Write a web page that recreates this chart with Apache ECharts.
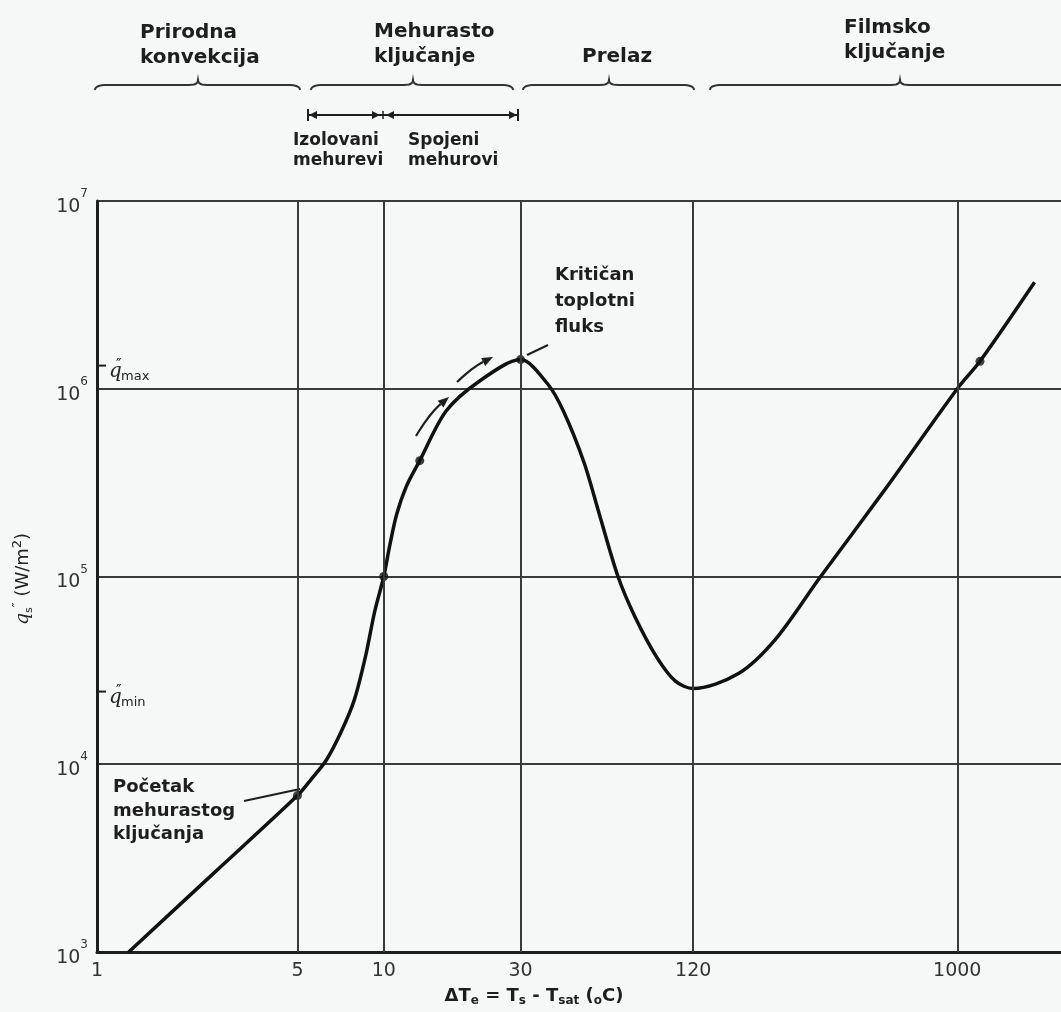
<!DOCTYPE html>
<html>
<head>
<meta charset="utf-8">
<script src="https://cdn.jsdelivr.net/npm/echarts@6/dist/echarts.min.js"></script>
<style>
html,body{margin:0;padding:0;background:#f6f7f7;}
#c{width:1061px;height:1012px;}
</style>
</head>
<body>
<div id="c"></div>
<script>
// ---------- data ----------
const xTicks = [1, 5, 10, 30, 120, 1000];
const xGridLines = [5, 10, 30, 120, 1000];
const yExponents = [3, 4, 5, 6, 7];

const deltaT = [1.29, 2.56, 5.0, 5.6, 6.3, 7.09, 7.9, 8.65, 9.3, 10.0, 10.49, 11.1, 12.0, 13.35, 16.5, 21.6, 30,
                37.3, 42.3, 49.9, 56.4, 65.6, 75.0, 89.5, 104, 120,
                172, 231, 330, 560, 1000, 1200, 1860];
const heatFlux = [1000, 2640, 6810, 8360, 10500, 14800, 22100, 37900, 65200, 100000, 146000, 215000, 303000, 414000, 761000, 1100000, 1430000,
                  1060000, 761000, 406000, 216000, 100000, 61500, 37200, 27700, 25300,
                  30300, 45800, 97500, 291000, 1000000, 1400000, 3690000];

const markedT = [5, 10, 13.35, 30, 1200];
const markedQ = [6810, 100000, 414000, 1430000, 1400000];

const qMax = 1430000;
const qMin = 25300;

const regionLabels = ['Prirodna\nkonvekcija', 'Mehurasto\nključanje', 'Prelaz', 'Filmsko\nključanje'];
const subRegionLabels = ['Izolovani\nmehurevi', 'Spojeni\nmehurovi'];
const chfLabel = 'Kritičan\ntoplotni\nfluks';
const onsetLabel = 'Početak\nmehurastog\nključanja';

// ---------- chart ----------
const ink = '#1e1e1e';
const gridInk = '#3a3a3a';
const BOLD = '"DejaVu Sans", sans-serif';

const chart = echarts.init(document.getElementById('c'));

const option = {
  backgroundColor: '#f6f7f7',
  animation: false,
  grid: { left: 97, right: 0, top: 201, bottom: 60 },
  xAxis: {
    type: 'log', logBase: 10, min: 1, max: 2300,
    axisLine: { show: true, lineStyle: { color: ink, width: 3 } },
    axisTick: { show: false },
    splitLine: { show: false },
    minorTick: { show: false },
    axisLabel: {
      customValues: xTicks,
      formatter: v => String(Math.round(v)),
      margin: 10,
      fontSize: 19,
      fontFamily: '"DejaVu Sans", sans-serif',
      color: '#333'
    }
  },
  yAxis: {
    type: 'log', logBase: 10, min: 1000, max: 1e7,
    axisLine: { show: true, lineStyle: { color: ink, width: 3 } },
    axisTick: { show: false },
    splitLine: { show: true, lineStyle: { color: gridInk, width: 2 } },
    axisLabel: {
      margin: 9,
      formatter: v => {
        const e = yExponents.find(k => Math.abs(Math.pow(10, k) - v) < 1e-6 * v);
        return '{b|10}{s|' + e + '}';
      },
      rich: {
        b: { fontSize: 19, fontFamily: '"DejaVu Sans", sans-serif', color: '#333', lineHeight: 26, padding: [12, 0, 0, 0] },
        s: { fontSize: 12, fontFamily: '"DejaVu Sans", sans-serif', color: '#333', verticalAlign: 'top', lineHeight: 12 }
      }
    }
  },
  series: [
    {
      type: 'line', data: [], z: 1, silent: true,
      markLine: {
        silent: true, symbol: ['none', 'none'], label: { show: false },
        lineStyle: { color: gridInk, width: 2, type: 'solid' },
        emphasis: { disabled: true },
        data: xGridLines.map(v => ({ xAxis: v }))
      }
    },
    {
      type: 'line', z: 3,
      data: deltaT.map((t, i) => [t, heatFlux[i]]),
      smooth: 0.3, showSymbol: false,
      lineStyle: { color: '#111', width: 3.5 }
    },
    {
      type: 'scatter', z: 4,
      data: markedT.map((t, i) => [t, markedQ[i]]),
      symbolSize: 9, itemStyle: { color: '#111' }
    }
  ]
};
chart.setOption(option);

// ---------- annotations ----------
function quadPts(p0, c, p1, n) {
  const out = [];
  for (let i = 1; i <= n; i++) {
    const t = i / n, u = 1 - t;
    out.push([u * u * p0[0] + 2 * u * t * c[0] + t * t * p1[0], u * u * p0[1] + 2 * u * t * c[1] + t * t * p1[1]]);
  }
  return out;
}
function brace(x1, x2, cx, y) {
  let pts = [[x1, y + 5]];
  pts = pts.concat(quadPts([x1, y + 5], [x1, y], [x1 + 12, y], 8));
  pts.push([cx - 9, y]);
  pts = pts.concat(quadPts([cx - 9, y], [cx, y], [cx, y - 5], 6));
  pts = pts.concat(quadPts([cx, y - 5], [cx, y], [cx + 9, y], 6));
  pts.push([x2 - 12, y]);
  pts = pts.concat(quadPts([x2 - 12, y], [x2, y], [x2, y + 5], 8));
  return { type: 'polyline', shape: { points: pts }, style: { stroke: '#333', lineWidth: 2, fill: null } };
}
function tri(x, y, dir) {
  return { type: 'polygon', shape: { points: [[x, y], [x - dir * 8, y - 4], [x - dir * 8, y + 4]] }, style: { fill: ink } };
}
function arrowAlong(x1, y1, cx, cy, x2, y2) {
  const ang = Math.atan2(y2 - cy, x2 - cx);
  const L = 11, W = 4.5;
  const bx = x2 - L * Math.cos(ang), by = y2 - L * Math.sin(ang);
  const px = -Math.sin(ang) * W, py = Math.cos(ang) * W;
  return [
    { type: 'polyline', shape: { points: [[x1, y1]].concat(quadPts([x1, y1], [cx, cy], [bx, by], 10)) }, style: { stroke: ink, lineWidth: 2.2, fill: null } },
    { type: 'polygon', shape: { points: [[x2, y2], [bx + px, by + py], [bx - px, by - py]] }, style: { fill: ink } }
  ];
}
const txt = (x, y, text, size, lh) => ({
  type: 'text', x, y, z: 10,
  style: { text, font: `bold ${size}px ${BOLD}`, fill: ink, lineHeight: lh, verticalAlign: 'top', align: 'left' }
});

const yMaxPx = chart.convertToPixel({ yAxisIndex: 0 }, qMax);
const yMinPx = chart.convertToPixel({ yAxisIndex: 0 }, qMin);
const axisX = chart.convertToPixel({ xAxisIndex: 0 }, 1);

const qLabel = (y, sub) => [
  { type: 'line', shape: { x1: axisX, y1: y, x2: axisX + 9, y2: y }, style: { stroke: ink, lineWidth: 2 } },
  { type: 'text', x: axisX + 12, y: y + 6, style: { text: 'q', font: `italic 20px "DejaVu Serif", serif`, fill: '#222', verticalAlign: 'middle' } },
  { type: 'text', x: axisX + 19, y: y + 1, style: { text: '″', font: `15px "DejaVu Sans", sans-serif`, fill: '#222', verticalAlign: 'middle' } },
  { type: 'text', x: axisX + 24, y: y + 11, style: { text: sub, font: `13px "DejaVu Sans", sans-serif`, fill: '#222', verticalAlign: 'middle' } }
];

const graphic = [
  brace(95, 300, 198, 85),
  brace(311, 513, 413, 85),
  brace(523, 694, 609, 85),
  brace(710, 1090, 900, 85),

  txt(140, 20, regionLabels[0], 20, 25),
  txt(374, 19, regionLabels[1], 20, 25),
  txt(582, 44, regionLabels[2], 20, 25),
  txt(844, 15, regionLabels[3], 20, 25),

  { type: 'line', shape: { x1: 308, y1: 115, x2: 518, y2: 115 }, style: { stroke: ink, lineWidth: 2 } },
  { type: 'line', shape: { x1: 308, y1: 109, x2: 308, y2: 121 }, style: { stroke: ink, lineWidth: 2 } },
  { type: 'line', shape: { x1: 518, y1: 109, x2: 518, y2: 121 }, style: { stroke: ink, lineWidth: 2 } },
  { type: 'line', shape: { x1: 383, y1: 111, x2: 383, y2: 119 }, style: { stroke: ink, lineWidth: 1.5 } },
  tri(309, 115, -1), tri(380, 115, 1), tri(386, 115, -1), tri(517, 115, 1),
  txt(293, 131, subRegionLabels[0], 17, 20),
  txt(408, 131, subRegionLabels[1], 17, 20),

  txt(555, 262, chfLabel, 18, 26),
  { type: 'line', shape: { x1: 527, y1: 355, x2: 548, y2: 345 }, style: { stroke: ink, lineWidth: 2 } },

  txt(113, 776, onsetLabel, 18, 23.5),
  { type: 'line', shape: { x1: 244, y1: 801, x2: 300, y2: 789 }, style: { stroke: ink, lineWidth: 2 } },

  ...arrowAlong(416, 436, 430, 413, 449, 397),
  ...arrowAlong(457, 382, 473, 367, 493, 357),

  ...qLabel(yMaxPx + 6, 'max'),
  ...qLabel(yMinPx + 3, 'min'),

  {
    type: 'text', x: 534, y: 996, z: 10,
    style: {
      text: '{n|ΔT}{s|e}{n| = T}{s|s}{n| - T}{s|sat}{n| (}{s|o}{n|C)}',
      align: 'center', verticalAlign: 'middle',
      rich: {
        n: { font: `bold 18px ${BOLD}`, fill: ink, lineHeight: 22 },
        s: { font: `bold 12px ${BOLD}`, fill: ink, verticalAlign: 'bottom', lineHeight: 12 }
      }
    }
  },
  {
    type: 'text', x: 23, y: 579, rotation: Math.PI / 2, z: 10,
    style: {
      text: '{q|q}{s|s}{p|″}{n| (W/m}{p|2}{n|)}',
      align: 'center', verticalAlign: 'middle',
      rich: {
        q: { font: `italic 19px "DejaVu Serif", serif`, fill: '#222', lineHeight: 24 },
        n: { font: `18px "DejaVu Sans", sans-serif`, fill: '#222', lineHeight: 24 },
        s: { font: `11px "DejaVu Sans", sans-serif`, fill: '#222', verticalAlign: 'bottom', lineHeight: 11 },
        p: { font: `13px "DejaVu Sans", sans-serif`, fill: '#222', verticalAlign: 'top', lineHeight: 13 }
      }
    }
  }
];
chart.setOption({ graphic });
</script>
</body>
</html>
